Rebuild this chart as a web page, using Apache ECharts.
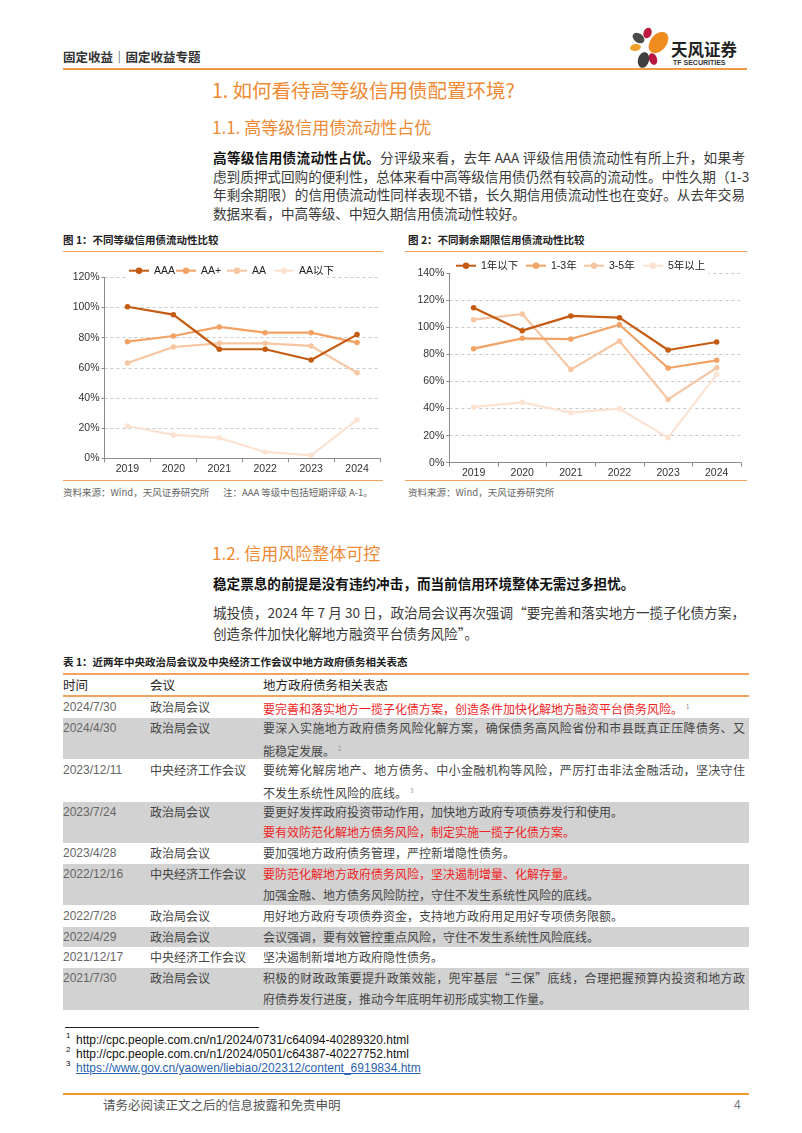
<!DOCTYPE html>
<html><head><meta charset="utf-8">
<script src="https://cdn.jsdelivr.net/npm/echarts@6/dist/echarts.min.js"></script>
<style>
html,body{margin:0;padding:0;background:#fff;}
body{width:802px;height:1133px;position:relative;overflow:hidden;font-family:"Noto Sans CJK SC","Liberation Sans",sans-serif;color:#333;}
.a{position:absolute;white-space:nowrap;}
.j{position:absolute;white-space:nowrap;text-align:justify;text-align-last:justify;}
.rule{position:absolute;background:#F0A35E;}
.h1{color:#EE8A33;font-size:19.5px;}
.h2{color:#EE8A33;font-size:17px;}
.p{font-size:13.6px;color:#3a3a3a;height:20px;line-height:20px;}
.cap{font-size:10.5px;color:#222;height:14px;line-height:14px;font-weight:bold;}
.src{font-size:9.5px;color:#666;height:12px;line-height:12px;}
.tb{font-size:12px;color:#444;height:18px;line-height:18px;}
.dt{font-family:"Liberation Sans",Arial,sans-serif;font-size:12px;color:#666;height:18px;line-height:18px;}
.red{color:#F01E1E;}
.sup{font-size:6px;color:#888;vertical-align:super;margin-left:3px;}
.gray{position:absolute;left:63px;width:686px;background:#D2D2D2;}
.fn{font-family:"Liberation Sans",Arial,sans-serif;font-size:12px;color:#111;height:14px;line-height:14px;}
.fs{font-family:"Liberation Sans",Arial,sans-serif;font-size:8px;color:#111;}
</style></head>
<body>
<!-- header -->
<div class="a" style="left:63px;top:49px;font-size:12.5px;font-weight:bold;color:#333;line-height:16px;">固定收益｜固定收益专题</div>
<svg class="a" style="left:620px;top:20px" width="60" height="55" viewBox="620 20 60 55">
  <ellipse cx="638.5" cy="38" rx="6.5" ry="4.5" transform="rotate(35 638.5 38)" fill="#4a4a4a"/>
  <ellipse cx="647.5" cy="33" rx="4" ry="5.5" transform="rotate(20 647.5 33)" fill="#BC1840"/>
  <ellipse cx="658.5" cy="42.5" rx="8" ry="12" transform="rotate(40 658.5 42.5)" fill="#F08C1E"/>
  <ellipse cx="635.5" cy="47.5" rx="5.5" ry="3.5" transform="rotate(-10 635.5 47.5)" fill="#F2A12C"/>
  <ellipse cx="643.5" cy="60" rx="5.5" ry="8" transform="rotate(15 643.5 60)" fill="#3f3f3f"/>
  <ellipse cx="653" cy="59" rx="4" ry="6" transform="rotate(-20 653 59)" fill="#B81840"/>
</svg>
<div class="a" style="left:671px;top:39px;font-size:16.5px;font-weight:bold;color:#222;line-height:20px;">天风证券</div>
<div class="a" style="left:673px;top:59px;font-size:7px;font-weight:bold;color:#333;line-height:8px;font-family:'Liberation Sans',Arial,sans-serif;">TF SECURITIES</div>
<div class="rule" style="left:63px;top:68px;width:684px;height:2px;background:#EE9A40;"></div>

<!-- headings -->
<div class="a h1" style="left:212px;top:78px;line-height:24px;">1. 如何看待高等级信用债配置环境?</div>
<div class="a h2" style="left:212px;top:116px;line-height:22px;">1.1. 高等级信用债流动性占优</div>

<div class="j p" style="left:213px;top:147px;width:532px;"><b style="color:#111">高等级信用债流动性占优。</b>分评级来看，去年 AAA 评级信用债流动性有所上升，如果考</div>
<div class="j p" style="left:213px;top:165.5px;width:532px;">虑到质押式回购的便利性，总体来看中高等级信用债仍然有较高的流动性。中性久期（1-3</div>
<div class="j p" style="left:213px;top:184px;width:532px;">年剩余期限）的信用债流动性同样表现不错，长久期信用债流动性也在变好。从去年交易</div>
<div class="a p" style="left:213px;top:202.5px;">数据来看，中高等级、中短久期信用债流动性较好。</div>

<!-- chart captions -->
<div class="a cap" style="left:63px;top:233px;">图 1：不同等级信用债流动性比较</div>
<div class="a cap" style="left:408px;top:233px;">图 2：不同剩余期限信用债流动性比较</div>
<div class="rule" style="left:63px;top:251px;width:320px;height:1px;"></div>
<div class="rule" style="left:405px;top:251px;width:342px;height:1px;"></div>

<div id="c1" class="a" style="left:60px;top:255px;width:330px;height:225px;"></div>
<div id="c2" class="a" style="left:400px;top:255px;width:350px;height:225px;"></div>

<div class="rule" style="left:63px;top:480px;width:320px;height:1px;"></div>
<div class="rule" style="left:405px;top:480px;width:342px;height:1px;"></div>
<div class="a src" style="left:63px;top:486px;">资料来源：Wind，天风证券研究所</div>
<div class="a src" style="left:223px;top:486px;">注：AAA 等级中包括短期评级 A-1。</div>
<div class="a src" style="left:408px;top:486px;">资料来源：Wind，天风证券研究所</div>

<!-- section 1.2 -->
<div class="a h2" style="left:212px;top:542px;line-height:22px;">1.2. 信用风险整体可控</div>
<div class="a p" style="left:213px;top:573px;font-weight:bold;color:#111;">稳定票息的前提是没有违约冲击，而当前信用环境整体无需过多担忧。</div>
<div class="j p" style="left:213px;top:602px;width:532px;">城投债，2024 年 7 月 30 日，政治局会议再次强调“要完善和落实地方一揽子化债方案，</div>
<div class="a p" style="left:213px;top:623px;">创造条件加快化解地方融资平台债务风险”。</div>

<!-- table -->
<div class="a cap" style="left:63px;top:655px;">表 1：近两年中央政治局会议及中央经济工作会议中地方政府债务相关表态</div>
<div class="rule" style="left:63px;top:673px;width:686px;height:2px;"></div>
<div class="a tb" style="left:63px;top:676px;color:#222;font-size:12.5px;">时间</div>
<div class="a tb" style="left:150px;top:676px;color:#222;font-size:12.5px;">会议</div>
<div class="a tb" style="left:263px;top:676px;color:#222;font-size:12.5px;">地方政府债务相关表态</div>
<div class="rule" style="left:63px;top:695px;width:686px;height:2px;"></div>

<div class="gray" style="top:718px;height:41px;"></div>
<div class="gray" style="top:802px;height:41px;"></div>
<div class="gray" style="top:864px;height:41px;"></div>
<div class="gray" style="top:927px;height:20px;"></div>
<div class="gray" style="top:968px;height:42px;"></div>

<div class="a dt" style="left:63px;top:698px;">2024/7/30</div>
<div class="a tb" style="left:150px;top:698px;">政治局会议</div>
<div class="a tb red" style="left:263px;top:698px;">要完善和落实地方一揽子化债方案，创造条件加快化解地方融资平台债务风险。<span class="sup">1</span></div>

<div class="a dt" style="left:63px;top:719px;">2024/4/30</div>
<div class="a tb" style="left:150px;top:719px;">政治局会议</div>
<div class="j tb" style="left:263px;top:719px;width:482px;">要深入实施地方政府债务风险化解方案，确保债务高风险省份和市县既真正压降债务、又</div>
<div class="a tb" style="left:263px;top:740px;">能稳定发展。<span class="sup">2</span></div>

<div class="a dt" style="left:63px;top:761px;">2023/12/11</div>
<div class="a tb" style="left:150px;top:761px;">中央经济工作会议</div>
<div class="j tb" style="left:263px;top:761px;width:482px;">要统筹化解房地产、地方债务、中小金融机构等风险，严厉打击非法金融活动，坚决守住</div>
<div class="a tb" style="left:263px;top:782px;">不发生系统性风险的底线。<span class="sup">3</span></div>

<div class="a dt" style="left:63px;top:803px;">2023/7/24</div>
<div class="a tb" style="left:150px;top:803px;">政治局会议</div>
<div class="a tb" style="left:263px;top:803px;">要更好发挥政府投资带动作用，加快地方政府专项债券发行和使用。</div>
<div class="a tb red" style="left:263px;top:823px;">要有效防范化解地方债务风险，制定实施一揽子化债方案。</div>

<div class="a dt" style="left:63px;top:844px;">2023/4/28</div>
<div class="a tb" style="left:150px;top:844px;">政治局会议</div>
<div class="a tb" style="left:263px;top:844px;">要加强地方政府债务管理，严控新增隐性债务。</div>

<div class="a dt" style="left:63px;top:865px;">2022/12/16</div>
<div class="a tb" style="left:150px;top:865px;">中央经济工作会议</div>
<div class="a tb red" style="left:263px;top:865px;">要防范化解地方政府债务风险，坚决遏制增量、化解存量。</div>
<div class="a tb" style="left:263px;top:886px;">加强金融、地方债务风险防控，守住不发生系统性风险的底线。</div>

<div class="a dt" style="left:63px;top:907px;">2022/7/28</div>
<div class="a tb" style="left:150px;top:907px;">政治局会议</div>
<div class="a tb" style="left:263px;top:907px;">用好地方政府专项债券资金，支持地方政府用足用好专项债务限额。</div>

<div class="a dt" style="left:63px;top:928px;">2022/4/29</div>
<div class="a tb" style="left:150px;top:928px;">政治局会议</div>
<div class="a tb" style="left:263px;top:928px;">会议强调，要有效管控重点风险，守住不发生系统性风险底线。</div>

<div class="a dt" style="left:63px;top:948px;">2021/12/17</div>
<div class="a tb" style="left:150px;top:948px;">中央经济工作会议</div>
<div class="a tb" style="left:263px;top:948px;">坚决遏制新增地方政府隐性债务。</div>

<div class="a dt" style="left:63px;top:969px;">2021/7/30</div>
<div class="a tb" style="left:150px;top:969px;">政治局会议</div>
<div class="j tb" style="left:263px;top:969px;width:482px;">积极的财政政策要提升政策效能，兜牢基层“三保”底线，合理把握预算内投资和地方政</div>
<div class="a tb" style="left:263px;top:990px;">府债券发行进度，推动今年底明年初形成实物工作量。</div>

<!-- footnotes -->
<div class="rule" style="left:65px;top:1027px;width:194px;height:1px;background:#222;"></div>
<div class="a fs" style="left:66px;top:1031px;">1</div>
<div class="a fn" style="left:76px;top:1033px;">http://cpc.people.com.cn/n1/2024/0731/c64094-40289320.html</div>
<div class="a fs" style="left:66px;top:1045px;">2</div>
<div class="a fn" style="left:76px;top:1047px;">http://cpc.people.com.cn/n1/2024/0501/c64387-40227752.html</div>
<div class="a fs" style="left:66px;top:1059px;">3</div>
<div class="a fn" style="left:76px;top:1061px;color:#2B5FB0;text-decoration:underline;">https://www.gov.cn/yaowen/liebiao/202312/content_6919834.htm</div>

<div class="rule" style="left:63px;top:1093px;width:686px;height:2px;background:#EE9A30;"></div>
<div class="a" style="left:103px;top:1097px;font-size:12.5px;color:#555;line-height:16px;">请务必阅读正文之后的信息披露和免责申明</div>
<div class="a" style="left:734px;top:1097px;font-size:12px;color:#777;line-height:16px;font-family:'Liberation Sans',Arial,sans-serif;">4</div>

<script>
// ---- data ----
const years = ['2019', '2020', '2021', '2022', '2023', '2024'];
const gradeNames = ['AAA', 'AA+', 'AA', 'AA以下'];
const gradeAAA = [100.5, 95.2, 72.3, 72.3, 65.2, 82.0];
const gradeAAplus = [77.3, 81.1, 87.1, 83.3, 83.3, 76.7];
const gradeAA = [63.2, 73.8, 76.2, 76.2, 74.5, 56.8];
const gradeBelowAA = [21.4, 15.5, 13.5, 4.2, 2.0, 25.4];

const tenorNames = ['1年以下', '1-3年', '3-5年', '5年以上'];
const tenorUnder1 = [114.6, 97.6, 108.5, 107.2, 83.3, 89.2];
const tenor1to3 = [84.3, 91.9, 91.4, 102.0, 70.0, 75.7];
const tenor3to5 = [105.7, 109.9, 68.8, 90.0, 46.8, 70.2];
const tenorOver5 = [41.2, 44.6, 37.0, 39.9, 18.5, 65.3];

const chart1Max = 120, chart2Max = 140, yInterval = 20;
// ---- styles ----
const palette = ['#C55A11', '#F2A264', '#F6C6A2', '#FBE2D1'];
const fontFam = '"Liberation Sans", Arial, "Noto Sans CJK SC", sans-serif';

function build(el, names, datas, yMax, grid, legendLefts, legendTop, mask, xLabelMargin) {
  const chart = echarts.init(document.getElementById(el), null, {renderer: 'canvas'});
  const series = names.map((n, i) => ({
    type: 'line', name: n, data: datas[i],
    symbol: 'circle', symbolSize: 5.5, showSymbol: true,
    lineStyle: {width: 2.2, color: palette[i]},
    itemStyle: {color: palette[i]},
    z: 10 - i, animation: false
  }));
  const legends = names.map((n, i) => ({
    data: [n], left: legendLefts[i], top: legendTop, padding: 0,
    itemWidth: 20, itemHeight: 8, itemGap: 0,
    textStyle: {fontSize: 10.5, color: '#222', fontFamily: fontFam, lineHeight: 12}
  }));
  chart.setOption({
    animation: false,
    grid: grid,
    legend: legends,
    graphic: [{type: 'rect', left: mask[0], top: mask[1], shape: {width: mask[2], height: mask[3]}, style: {fill: '#fff'}, z: 3, silent: true}],
    xAxis: {
      type: 'category', data: years, boundaryGap: true,
      axisLine: {lineStyle: {color: '#8c8c8c', width: 1}},
      axisTick: {show: true, length: 4, lineStyle: {color: '#8c8c8c'}},
      axisLabel: {fontSize: 10.5, color: '#333', fontFamily: fontFam, margin: xLabelMargin}
    },
    yAxis: {
      type: 'value', min: 0, max: yMax, interval: yInterval,
      axisLine: {show: true, lineStyle: {color: '#8c8c8c', width: 1}},
      axisTick: {show: true, length: 3, lineStyle: {color: '#8c8c8c'}},
      axisLabel: {fontSize: 10.5, color: '#333', fontFamily: fontFam, margin: 5, formatter: v => v + '%'},
      splitLine: {show: true, lineStyle: {color: '#c8c8c8', type: [3, 3], width: 1}}
    },
    series: series
  });
}

build('c1', gradeNames, [gradeAAA, gradeAAplus, gradeAA, gradeBelowAA], chart1Max,
  {left: 44.5, right: 10, top: 22.3, bottom: 21.7},
  [68, 115, 166, 213], 9.7, [67, 7, 200, 20], 6);
build('c2', tenorNames, [tenorUnder1, tenor1to3, tenor3to5, tenorOver5], chart2Max,
  {left: 49.3, right: 9, top: 18.3, bottom: 17.3},
  [55, 125, 183, 242], 4.7, [50.5, 0, 258, 24], 5);
</script>
</body></html>
